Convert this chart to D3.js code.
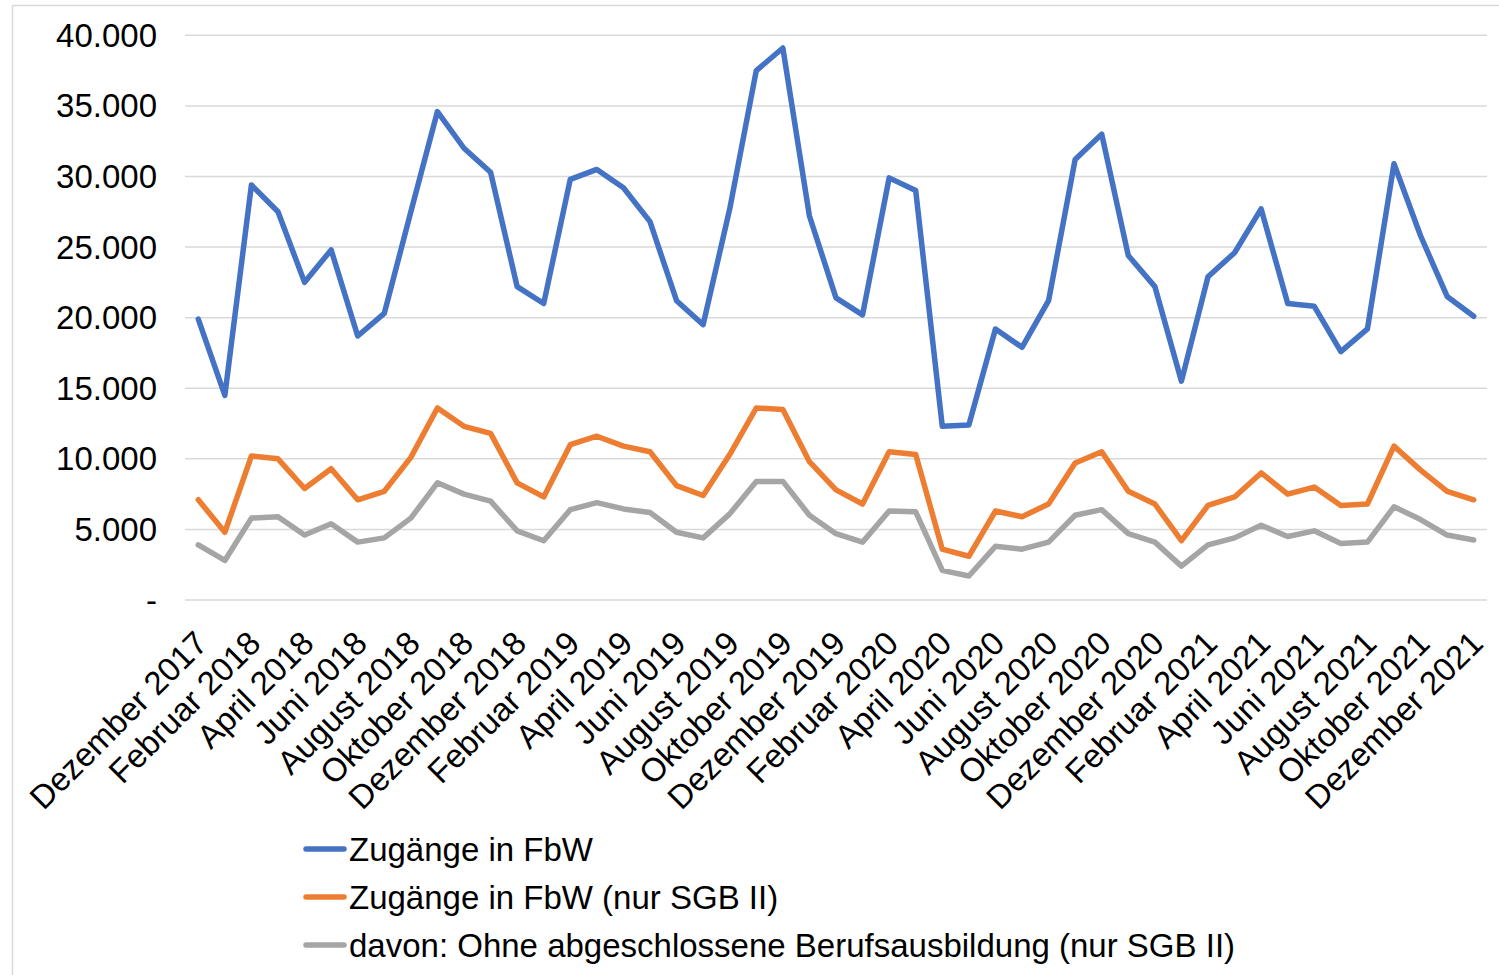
<!DOCTYPE html>
<html>
<head>
<meta charset="utf-8">
<script src="https://cdn.jsdelivr.net/npm/d3@7"></script>
<style>
  body { margin: 0; background: #fff; }
  text { font-family: "Liberation Sans", Arial, sans-serif; fill: #000; }
</style>
</head>
<body>
<svg id="chart"></svg>
<script>
var months = ["Dezember 2017","Januar 2018","Februar 2018","März 2018","April 2018","Mai 2018","Juni 2018","Juli 2018",
  "August 2018","September 2018","Oktober 2018","November 2018","Dezember 2018","Januar 2019","Februar 2019","März 2019",
  "April 2019","Mai 2019","Juni 2019","Juli 2019","August 2019","September 2019","Oktober 2019","November 2019",
  "Dezember 2019","Januar 2020","Februar 2020","März 2020","April 2020","Mai 2020","Juni 2020","Juli 2020",
  "August 2020","September 2020","Oktober 2020","November 2020","Dezember 2020","Januar 2021","Februar 2021","März 2021",
  "April 2021","Mai 2021","Juni 2021","Juli 2021","August 2021","September 2021","Oktober 2021","November 2021","Dezember 2021"];

var zugaenge = [19900,14500,29400,27500,22500,24800,18700,20300,27500,34600,32000,30300,22200,21000,29800,30500,
  29200,26800,21200,19500,27700,37500,39100,27200,21400,20200,29900,29000,12300,12400,19200,17900,
  21200,31200,33000,24400,22200,15500,22900,24600,27700,21000,20800,17600,19200,30900,25800,21500,20100];

var zugaengeSGB2 = [7100,4800,10200,10000,7900,9300,7100,7700,10100,13600,12300,11800,8300,7300,11000,11600,
  10900,10500,8100,7400,10300,13600,13500,9800,7800,6800,10500,10300,3600,3100,6300,5900,
  6800,9700,10500,7700,6800,4200,6700,7300,9000,7500,8000,6700,6800,10900,9200,7700,7100];

var ohneAusbildung = [3900,2800,5800,5900,4600,5400,4100,4400,5800,8300,7500,7000,4900,4200,6400,6900,
  6450,6200,4800,4400,6100,8400,8400,6000,4700,4100,6300,6250,2100,1700,3800,3600,
  4100,6000,6400,4700,4100,2400,3900,4400,5300,4500,4900,4000,4100,6600,5700,4600,4250];

var yTicks = [0,5000,10000,15000,20000,25000,30000,35000,40000];

var seriesNames = ["Zugänge in FbW", "Zugänge in FbW (nur SGB II)", "davon: Ohne abgeschlossene Berufsausbildung (nur SGB II)"];
var seriesColors = ["#4472C4", "#ED7D31", "#A5A5A5"];
var allSeries = [zugaenge, zugaengeSGB2, ohneAusbildung];

var width = 1499, height = 975;
var plot = {left: 185, right: 1487, top: 35.3, bottom: 600};

var de = d3.formatLocale({decimal: ",", thousands: ".", grouping: [3], currency: ["", " €"]});
var fmt = de.format(",");

var svg = d3.select("#chart")
  .attr("width", width)
  .attr("height", height);

// chart border
svg.append("rect")
  .attr("x", 12.5).attr("y", 5.5)
  .attr("width", 1500).attr("height", 1000)
  .attr("fill", "#fff")
  .attr("stroke", "#D9D9D9")
  .attr("stroke-width", 1.5);

var xScale = d3.scaleBand()
  .domain(months)
  .range([plot.left, plot.right]);

var yScale = d3.scaleLinear()
  .domain([0, 40000])
  .range([plot.bottom, plot.top]);

var xPos = function(m){ return xScale(m) + xScale.bandwidth() / 2; };

// gridlines
svg.append("g")
  .selectAll("line")
  .data(yTicks)
  .enter()
  .append("line")
  .attr("x1", plot.left)
  .attr("x2", plot.right)
  .attr("y1", function(d){ return yScale(d); })
  .attr("y2", function(d){ return yScale(d); })
  .attr("stroke", "#D9D9D9")
  .attr("stroke-width", 1.5);

// y labels
svg.append("g")
  .selectAll("text")
  .data(yTicks)
  .enter()
  .append("text")
  .attr("x", 157)
  .attr("y", function(d){ return yScale(d); })
  .attr("dy", "0.35em")
  .attr("text-anchor", "end")
  .style("font-size", "33px")
  .text(function(d){ return d === 0 ? "-" : fmt(d); });

// x labels, every second month
svg.append("g")
  .selectAll("text")
  .data(months.filter(function(m, i){ return i % 2 === 0; }))
  .enter()
  .append("text")
  .attr("transform", function(m){ return "translate(" + (xPos(m) + 3) + ",637) rotate(-45)"; })
  .attr("dy", "0.35em")
  .attr("text-anchor", "end")
  .style("font-size", "33px")
  .text(function(m){ return m; });

var lineGenerator = d3.line()
  .x(function(v, i){ return xPos(months[i]); })
  .y(function(v){ return yScale(v); });

svg.append("g")
  .selectAll("path")
  .data(allSeries)
  .enter()
  .append("path")
  .attr("d", lineGenerator)
  .attr("fill", "none")
  .attr("stroke", function(d, i){ return seriesColors[i]; })
  .attr("stroke-width", 5.5)
  .attr("stroke-linejoin", "round")
  .attr("stroke-linecap", "round");

// legend
var legend = svg.append("g")
  .selectAll("g")
  .data(seriesNames)
  .enter()
  .append("g")
  .attr("transform", function(d, i){ return "translate(0," + (849 + i * 48) + ")"; });

legend.append("line")
  .attr("x1", 306).attr("x2", 344)
  .attr("stroke", function(d, i){ return seriesColors[i]; })
  .attr("stroke-width", 5.5)
  .attr("stroke-linecap", "round");

legend.append("text")
  .attr("x", 349)
  .attr("dy", "0.35em")
  .style("font-size", "33px")
  .text(function(d){ return d; });
</script>
</body>
</html>
